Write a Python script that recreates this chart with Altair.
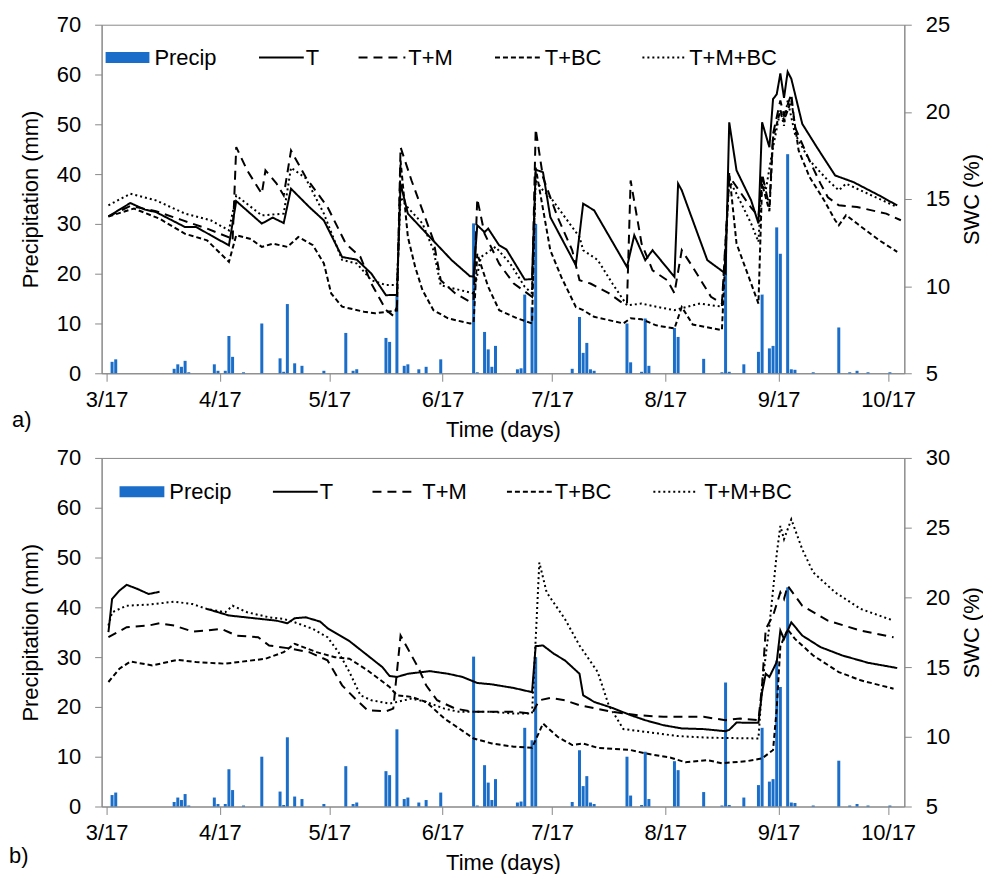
import altair as alt
import pandas as pd
import numpy as np

START = pd.Timestamp("2015-03-17")
FONT = "Liberation Sans"
BLUE = "#1a6dc8"

# ---------------- data ----------------
tick_labels = ["3/17", "4/17", "5/17", "6/17", "7/17", "8/17", "9/17", "10/17"]

rain_day = [1, 2, 18, 19, 20, 21, 22, 29, 30, 32, 33, 34, 37, 42, 47, 48, 49, 51, 53, 59,
            65, 67, 68, 76, 77, 79, 81, 82, 85, 87, 91, 100, 101, 103, 104, 105, 106,
            112, 113, 114, 116, 117, 127, 129, 130, 131, 132, 133, 142, 143, 146, 147, 148,
            155, 156, 163, 168, 169, 170, 174, 178, 179, 181, 182, 183, 184, 186, 187, 188,
            193, 200, 203, 205, 208, 214]
rain_mm = [2.3, 2.8, 0.9, 1.8, 1.3, 2.5, 0.2, 1.8, 0.5, 0.5, 7.5, 3.3, 0.2, 10.0, 3.0, 0.3, 13.9, 2.0, 1.5, 0.5,
           8.1, 0.5, 0.8, 7.1, 6.3, 15.5, 1.5, 1.8, 0.8, 1.3, 2.8, 30.1, 0.2, 8.3, 4.8, 1.3, 5.5,
           0.8, 1.0, 15.8, 13.3, 30.0, 0.9, 11.3, 4.1, 6.1, 0.8, 0.5, 10.0, 2.2, 0.3, 11.0, 1.5,
           9.1, 7.3, 2.9, 0.2, 24.9, 0.3, 1.8, 4.3, 15.8, 5.0, 5.5, 29.3, 24.0, 44.0, 0.8, 0.7,
           0.2, 9.2, 0.2, 0.5, 0.2, 0.2]

# panel a) SWC (%)
a_T_day = [0, 6, 10, 13, 21, 24, 28, 33, 35, 42, 45, 48, 50, 55, 59, 64, 68, 72, 76, 79,
           80, 82, 88, 94, 99, 100, 101, 103, 104, 107, 109, 114, 116, 117, 119, 121, 128, 130,
           133, 142, 144, 147, 149, 155, 156, 157, 159, 164, 169, 170, 172, 176, 178, 179, 181,
           182, 183, 184, 185, 186, 187, 190, 194, 199, 204, 211, 216]
a_T_swc = [14.0, 14.77, 14.39, 14.25, 13.39, 13.4, 12.92, 12.34, 14.88, 13.59, 13.93, 13.62, 15.59, 14.54,
           13.77, 11.67, 11.52, 10.72, 9.48, 9.5, 15.88, 14.16, 12.82, 11.49, 10.57, 10.55, 13.49, 13.1,
           13.3, 12.34, 12.1, 10.38, 10.4, 16.68, 16.54, 13.96, 11.2, 14.73, 14.35, 11.1, 12.92, 11.49,
           12.06, 10.53, 15.88, 15.5, 14.35, 11.49, 10.72, 19.4, 16.64, 14.92, 13.6, 19.4, 17.97, 20.74,
           21.0, 22.2, 20.8, 22.3, 21.9, 19.31, 17.97, 16.35, 15.97, 15.21, 14.63]

a_TM_day = [0, 6, 13, 20, 27, 33, 34, 35, 38, 42, 43, 46, 48, 50, 54, 60, 65, 69, 72, 76, 78, 79,
            80, 83, 86, 89, 91, 95, 99, 100, 101, 103, 107, 111, 116, 117, 119, 123, 127, 129, 132,
            137, 141, 142, 143, 146, 149, 153, 155, 157, 160, 165, 168, 170, 173, 176, 178, 179, 181,
            182, 184, 185, 187, 188, 192, 195, 197, 200, 205, 213, 217]
a_TM_swc = [14.0, 14.6, 14.3, 13.8, 13.3, 12.8, 12.6, 17.98, 16.64, 15.3, 16.64, 15.9, 15.2, 17.78, 16.26,
            14.54, 12.44, 11.68, 10.15, 8.63, 8.3, 8.8, 17.97, 16.06, 14.35, 12.63, 10.34, 9.58, 9.1, 9.2,
            15.01, 13.01, 11.29, 10.15, 9.39, 19.02, 16.25, 13.96, 12.06, 10.34, 10.15, 9.6, 9.0, 9.0,
            16.06, 12.44, 10.91, 10.34, 9.6, 12.06, 11.1, 9.39, 9.0, 16.3, 15.4, 14.5, 14.0, 16.45, 14.54,
            18.74, 20.65, 19.8, 21.03, 19.12, 17.2, 15.88, 15.1, 14.64, 14.54, 14.16, 13.78]

a_TBC_day = [0, 7, 14, 21, 27, 32, 33, 35, 39, 42, 45, 49, 52, 56, 59, 61, 64, 70, 73, 79, 80, 82,
             84, 86, 89, 93, 99, 100, 101, 104, 107, 112, 116, 117, 121, 124, 128, 130, 133, 137, 141,
             143, 146, 150, 155, 157, 160, 168, 170, 172, 176, 178, 179, 181, 182, 184, 185, 187, 189,
             192, 196, 199, 200, 202, 205, 211, 216]
a_TBC_swc = [14.0, 14.45, 13.87, 13.0, 12.63, 11.6, 11.39, 12.92, 12.7, 12.25, 12.44, 12.25, 12.82, 12.35,
             11.3, 9.58, 8.82, 8.53, 8.44, 8.6, 17.2, 12.82, 11.1, 9.77, 8.62, 8.15, 7.86, 7.9, 11.86, 9.96,
             8.62, 8.15, 7.86, 16.8, 12.06, 10.53, 8.8, 8.62, 8.24, 8.05, 7.86, 8.15, 8.1, 7.75, 7.57, 8.8,
             7.8, 7.48, 16.5, 12.44, 10.15, 9.0, 15.88, 14.3, 18.5, 20.08, 19.5, 20.65, 17.79, 16.26, 14.92,
             13.78, 13.49, 14.07, 13.59, 12.64, 11.97]

a_TMBC_day = [0, 6, 13, 21, 28, 33, 35, 42, 48, 50, 54, 59, 64, 68, 72, 76, 79, 80, 82, 86, 89, 91,
              100, 102, 106, 110, 114, 116, 117, 119, 121, 125, 129, 130, 134, 138, 142, 146, 150, 155,
              162, 168, 170, 172, 176, 178, 179, 180, 182, 184, 185, 186, 188, 192, 197, 200, 202, 208, 216]
a_TMBC_swc = [14.64, 15.3, 14.92, 14.16, 13.78, 13.2, 15.2, 14.06, 14.16, 16.8, 16.2, 14.16, 11.5, 11.3,
              10.34, 10.06, 10.06, 15.1, 14.5, 13.6, 12.06, 10.05, 9.58, 11.67, 12.25, 11.3, 9.96, 9.6,
              16.06, 15.5, 15.11, 13.96, 12.82, 12.06, 11.5, 10.15, 8.9, 9.0, 8.82, 8.62, 9.0, 8.82, 16.07,
              15.3, 13.59, 12.54, 16.26, 15.5, 17.98, 20.08, 19.2, 20.65, 18.74, 17.21, 16.07, 15.5, 15.88,
              15.3, 14.54]

# panel b) SWC (%)  (None = no data)
b_T_day = [0, 1, 3, 5, 8, 11, 14, 20, 27, 33, 40, 46, 49, 51, 54, 58, 60, 66, 71, 75, 77, 79, 82,
           88, 93, 97, 101, 105, 111, 116, 117, 119, 122, 125, 129, 130, 133, 138, 143, 147, 152, 157,
           163, 169, 170, 172, 178, 179, 180, 181, 183, 184, 185, 187, 190, 195, 201, 208, 216]
b_T_swc = [17.5, 19.88, 20.48, 20.9, 20.6, 20.24, 20.4, None, 19.17, 18.7, 18.5, 18.33, 18.14, 18.5,
           18.57, 18.26, 17.79, 16.86, 15.83, 15.0, 14.36, 14.29, 14.52, 14.71, 14.52, 14.29, 13.86,
           13.76, 13.5, 13.2, 16.5, 16.55, 15.95, 15.48, 14.52, 12.98, 12.5, 12.07, 11.55, 11.19, 10.83,
           10.6, 10.55, 10.4, 10.5, 11.02, 11.0, 13.21, 14.52, 14.29, 15.36, 17.62, 17.02, 18.21, 17.26,
           16.43, 15.83, 15.31, 14.93]

b_TM_day = [0, 5, 11, 14, 18, 23, 27, 31, 35, 41, 44, 49, 55, 60, 64, 68, 71, 76, 78, 80, 82, 85,
            87, 90, 95, 100, 111, 116, 118, 121, 125, 129, 138, 145, 152, 163, 169, 173, 178, 179, 180,
            182, 184, 185, 186, 190, 197, 206, 215]
b_TM_swc = [17.14, 17.86, 17.98, 18.14, 17.98, 17.55, 17.62, 17.74, 17.26, 17.14, 16.55, 16.36, 16.07,
            15.48, 13.69, 12.62, 11.9, 11.83, 12.02, 17.26, 16.31, 14.88, 13.69, 12.62, 12.02, 11.79,
            11.79, 11.67, 12.62, 12.79, 12.62, 12.26, 11.79, 11.55, 11.43, 11.43, 11.19, 11.31, 11.19,
            13.69, 17.74, 18.69, 20.36, 19.88, 20.83, 19.4, 18.33, 17.62, 17.14]

b_TBC_day = [0, 3, 6, 12, 19, 24, 32, 43, 48, 51, 57, 62, 66, 71, 77, 79, 83, 87, 92, 96, 100, 105,
             111, 116, 118, 119, 123, 127, 130, 134, 143, 147, 154, 158, 164, 168, 175, 179, 182, 183,
             184, 186, 188, 193, 200, 206, 215]
b_TBC_swc = [13.93, 14.88, 15.4, 15.12, 15.52, 15.36, 15.24, 15.6, 16.07, 16.67, 16.07, 15.71, 15.6,
             14.76, 13.57, 12.98, 12.86, 12.5, 11.31, 10.6, 9.88, 9.52, 9.29, 9.21, 10.36, 10.95, 10.0,
             9.41, 9.52, 9.21, 9.05, 8.81, 8.5, 8.17, 8.33, 8.1, 8.26, 8.45, 9.05, 12.0, 16.5, 17.7,
             17.02, 15.83, 14.64, 14.05, 13.45]

b_TMBC_day = [0, 1, 5, 11, 18, 23, 27, 32, 34, 38, 44, 48, 51, 56, 60, 63, 66, 69, 72, 77, 79, 83,
              87, 92, 96, 105, 111, 116, 117, 118, 120, 125, 129, 134, 137, 141, 147, 156, 165, 178,
              179, 181, 183, 184, 185, 187, 190, 193, 199, 206, 215]
b_TMBC_swc = [17.98, 18.93, 19.4, 19.48, 19.69, 19.52, 19.17, 18.93, 19.4, 18.93, 18.57, 18.45, 18.21,
              17.74, 17.14, 16.07, 14.64, 12.98, 12.62, 12.38, 12.5, 12.74, 12.5, 12.02, 11.79, 11.79,
              11.67, 11.67, 17.0, 22.5, 20.36, 18.45, 16.55, 14.64, 12.26, 10.55, 10.36, 10.05, 9.93,
              9.88, 13.69, 17.98, 23.1, 25.12, 24.17, 25.6, 23.45, 21.79, 20.36, 19.17, 18.33]

SERIES = ["T", "T+M", "T+BC", "T+M+BC"]
DASHES = [[1, 0], [9, 6], [5, 3], [2, 3]]


def day_to_date(days):
    return START + pd.to_timedelta(np.asarray(days, dtype=float) + 0.5, unit="D")


def series_df(days, vals, name):
    d = pd.DataFrame({"day": days, "swc": vals})
    d["seg"] = d["swc"].isna().cumsum()
    d = d.dropna().copy()
    d["date"] = day_to_date(d["day"])
    d["series"] = name
    d["key"] = name + "_" + d["seg"].astype(str)
    return d[["date", "swc", "series", "key"]]


rain_df = pd.DataFrame({"date": day_to_date(rain_day), "mm": rain_mm})

lines_a = pd.concat([
    series_df(a_T_day, a_T_swc, "T"),
    series_df(a_TM_day, a_TM_swc, "T+M"),
    series_df(a_TBC_day, a_TBC_swc, "T+BC"),
    series_df(a_TMBC_day, a_TMBC_swc, "T+M+BC"),
])
lines_b = pd.concat([
    series_df(b_T_day, b_T_swc, "T"),
    series_df(b_TM_day, b_TM_swc, "T+M"),
    series_df(b_TBC_day, b_TBC_swc, "T+BC"),
    series_df(b_TMBC_day, b_TMBC_swc, "T+M+BC"),
])

tick_values = [alt.DateTime(year=2015, month=int(t.split("/")[0]), date=int(t.split("/")[1]))
               for t in tick_labels]
x_domain = [alt.DateTime(year=2015, month=3, date=17),
            alt.DateTime(year=2015, month=10, date=20, hours=2)]

W, H = 806, 350
one = pd.DataFrame({"k": [0]})


def legend_layers(items, ymid):
    layers = []
    for kind, x0, x1, tx, label, dash in items:
        if kind == "rect":
            layers.append(alt.Chart(one).mark_rect(color=BLUE).encode(
                x=alt.value(x0), x2=alt.value(x1), y=alt.value(ymid - 5.5), y2=alt.value(ymid + 5.5)))
        else:
            layers.append(alt.Chart(one).mark_rule(color="black", strokeWidth=2, strokeDash=dash).encode(
                x=alt.value(x0), x2=alt.value(x1), y=alt.value(ymid)))
        layers.append(alt.Chart(one).mark_text(align="left", baseline="middle", font=FONT,
                                               fontSize=22, color="black").encode(
            x=alt.value(tx), y=alt.value(ymid), text=alt.value(label)))
    return layers


def panel(lines_df, swc_max, legend_items, legend_y, tag, tag_xy):
    x = alt.X("date:T", scale=alt.Scale(domain=x_domain, nice=False),
              axis=alt.Axis(title="Time (days)", values=tick_values, format="%-m/%d",
                            tickSize=8, labelPadding=8, titlePadding=9))
    bars = alt.Chart(rain_df).mark_bar(color=BLUE, size=3).encode(
        x=x,
        y=alt.Y("mm:Q", scale=alt.Scale(domain=[0, 70], nice=False),
                axis=alt.Axis(title="Precipitation (mm)", values=list(range(0, 71, 10)),
                              orient="left", tickSize=7, labelPadding=14, titlePadding=14)),
    )
    lines = alt.Chart(lines_df).mark_line(color="black", strokeWidth=2).encode(
        x=x,
        y=alt.Y("swc:Q", scale=alt.Scale(domain=[5, swc_max], nice=False),
                axis=alt.Axis(title="SWC (%)", values=list(range(5, swc_max + 1, 5)), orient="right",
                              tickSize=7, labelPadding=14, titlePadding=12, titleAngle=270,
                              titleBaseline="top")),
        strokeDash=alt.StrokeDash("series:N", scale=alt.Scale(domain=SERIES, range=DASHES), legend=None),
        detail="key:N",
    )
    tag_text = alt.Chart(one).mark_text(align="left", baseline="middle", font=FONT, fontSize=22,
                                        color="black").encode(
        x=alt.value(tag_xy[0]), y=alt.value(tag_xy[1]), text=alt.value(tag))
    return alt.layer(bars, lines, *legend_layers(legend_items, legend_y), tag_text).resolve_scale(
        y="independent").properties(width=W, height=H)


legend_a = [
    ("rect", 4, 48, 53, "Precip", None),
    ("line", 158, 203, 205, "T", DASHES[0]),
    ("line", 258, 305, 308, "T+M", DASHES[1]),
    ("line", 395, 440, 445, "T+BC", DASHES[2]),
    ("line", 543, 585, 590, "T+M+BC", DASHES[3]),
]
legend_b = [
    ("rect", 18, 63, 68, "Precip", None),
    ("line", 172, 217, 219, "T", DASHES[0]),
    ("line", 272, 317, 322, "T+M", DASHES[1]),
    ("line", 407, 452, 455, "T+BC", DASHES[2]),
    ("line", 554, 597, 605, "T+M+BC", DASHES[3]),
]

pa = panel(lines_a, 25, legend_a, 33, "a)", (-90, 397))
pb = panel(lines_b, 30, legend_b, 34, "b)", (-93, 400))

chart = alt.vconcat(pa, pb, spacing=5).properties(
    padding={"left": 0, "top": 3, "right": 0, "bottom": 0}
).configure_axis(
    labelFont=FONT, titleFont=FONT, labelFontSize=22, titleFontSize=22, titleFontWeight="normal",
    domainColor="#888888", tickColor="#888888", labelColor="black", titleColor="black", grid=False,
).configure_view(stroke="#888888", strokeWidth=1)

chart.save("out.html", embed_options={"renderer": "svg", "actions": False})
